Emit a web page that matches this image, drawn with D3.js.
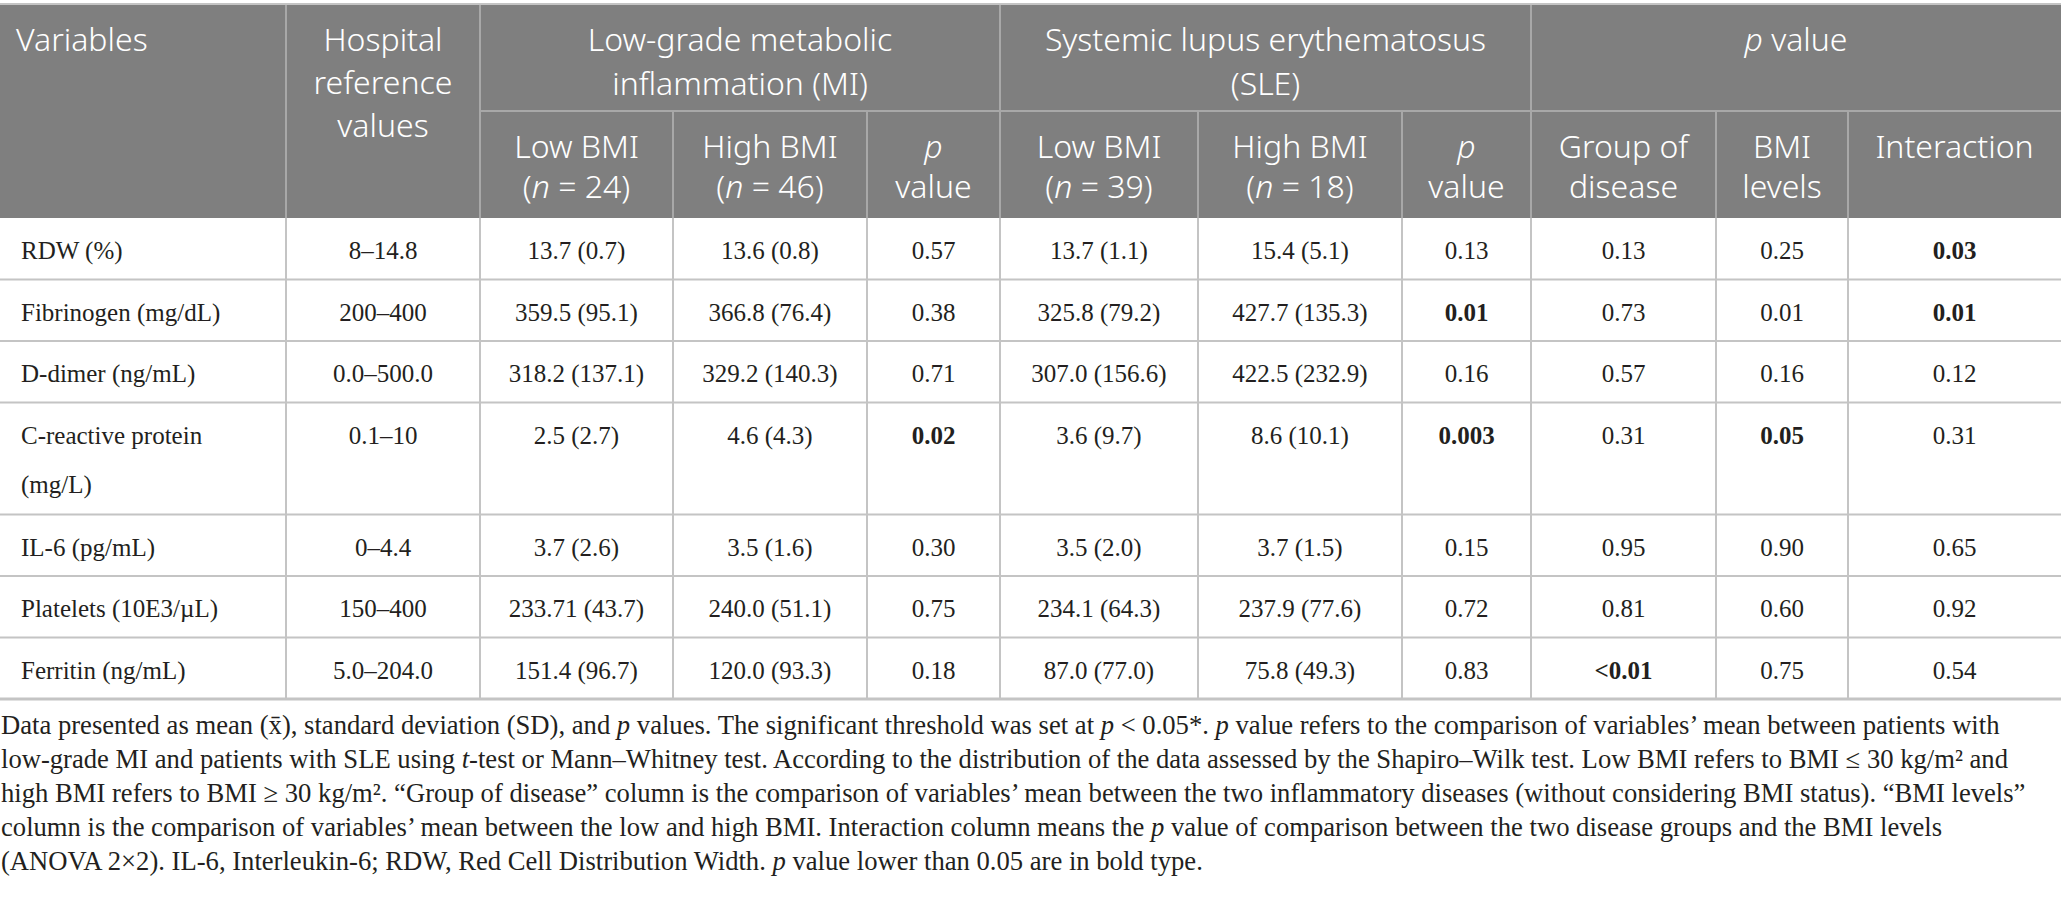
<!DOCTYPE html>
<html>
<head>
<meta charset="utf-8">
<script src="https://cdn.jsdelivr.net/npm/d3@7"></script>
<style>
  body { margin: 0; background: #fff; }
  svg { display: block; }
</style>
</head>
<body>
<svg class="table-svg"></svg>
<script>
// ---- data: table content (underscores mark italic runs, "|" a line break) ----
const variables = ["RDW (%)", "Fibrinogen (mg/dL)", "D-dimer (ng/mL)", "C-reactive protein|(mg/L)",
  "IL-6 (pg/mL)", "Platelets (10E3/µL)", "Ferritin (ng/mL)"];
const referenceValues = ["8–14.8", "200–400", "0.0–500.0", "0.1–10", "0–4.4", "150–400", "5.0–204.0"];
const miLowBmi = ["13.7 (0.7)", "359.5 (95.1)", "318.2 (137.1)", "2.5 (2.7)", "3.7 (2.6)", "233.71 (43.7)", "151.4 (96.7)"];
const miHighBmi = ["13.6 (0.8)", "366.8 (76.4)", "329.2 (140.3)", "4.6 (4.3)", "3.5 (1.6)", "240.0 (51.1)", "120.0 (93.3)"];
const miP = ["0.57", "0.38", "0.71", "0.02", "0.30", "0.75", "0.18"];
const sleLowBmi = ["13.7 (1.1)", "325.8 (79.2)", "307.0 (156.6)", "3.6 (9.7)", "3.5 (2.0)", "234.1 (64.3)", "87.0 (77.0)"];
const sleHighBmi = ["15.4 (5.1)", "427.7 (135.3)", "422.5 (232.9)", "8.6 (10.1)", "3.7 (1.5)", "237.9 (77.6)", "75.8 (49.3)"];
const sleP = ["0.13", "0.01", "0.16", "0.003", "0.15", "0.72", "0.83"];
const pGroup = ["0.13", "0.73", "0.57", "0.31", "0.95", "0.81", "<0.01"];
const pBmiLevels = ["0.25", "0.01", "0.16", "0.05", "0.90", "0.60", "0.75"];
const pInteraction = ["0.03", "0.01", "0.12", "0.31", "0.65", "0.92", "0.54"];
// bold cells as "row,col"
const boldCells = ["3,4", "1,7", "3,7", "6,8", "3,9", "0,10", "1,10"];

const groupHeaders = ["Low-grade metabolic|inflammation (MI)", "Systemic lupus erythematosus|(SLE)", "_p_ value"];
const subHeaders = ["Low BMI|(_n_ = 24)", "High BMI|(_n_ = 46)", "_p_|value",
  "Low BMI|(_n_ = 39)", "High BMI|(_n_ = 18)", "_p_|value",
  "Group of|disease", "BMI|levels", "Interaction"];

const footnoteLines = [
  "Data presented as mean (x̄), standard deviation (SD), and _p_ values. The significant threshold was set at _p_ < 0.05*. _p_ value refers to the comparison of variables’ mean between patients with",
  "low-grade MI and patients with SLE using _t_-test or Mann–Whitney test. According to the distribution of the data assessed by the Shapiro–Wilk test. Low BMI refers to BMI ≤ 30 kg/m² and",
  "high BMI refers to BMI ≥ 30 kg/m². “Group of disease” column is the comparison of variables’ mean between the two inflammatory diseases (without considering BMI status). “BMI levels”",
  "column is the comparison of variables’ mean between the low and high BMI. Interaction column means the _p_ value of comparison between the two disease groups and the BMI levels",
  "(ANOVA 2×2). IL-6, Interleukin-6; RDW, Red Cell Distribution Width. _p_ value lower than 0.05 are in bold type."
];

const columnsData = [variables, referenceValues, miLowBmi, miHighBmi, miP,
  sleLowBmi, sleHighBmi, sleP, pGroup, pBmiLevels, pInteraction];

// ---- layout ----
const width = 2061, height = 901;
const colEdges = [0, 286, 480, 673, 867, 1000, 1198, 1402, 1531, 1716, 1848, 2061];
const headTop = 4, headMid = 111, headBottom = 218;
const singleRowH = 61.5, extraLineH = 50.5, textLineH = 49;
const headFill = "#7f7f7f", headLine = "#a8a8a8", gridLine = "#c4c4c4";
const headFont = "'Noto Sans', 'Open Sans', sans-serif";
const bodyFont = "'Liberation Serif', 'DejaVu Serif', serif";

const svg = d3.select(".table-svg").attr("width", width).attr("height", height);

const colX = d3.scaleOrdinal().domain(d3.range(colEdges.length)).range(colEdges);
const colMid = i => (colX(i) + colX(i + 1)) / 2;

// row heights from number of lines in the label
const rowHeights = variables.map(v => singleRowH + (v.split("|").length - 1) * extraLineH);
const rowTops = [headBottom, ...d3.cumsum(rowHeights).map(h => headBottom + h)];
const rowY = d3.scaleOrdinal().domain(d3.range(rowTops.length)).range(rowTops);

// write text with "|" line breaks and _italic_ runs
function richText(sel, str, x, y0, dy, anchor) {
  str.split("|").forEach((line, li) => {
    const t = sel.append("text")
      .attr("x", x).attr("y", y0 + li * dy)
      .attr("text-anchor", anchor)
      .attr("dominant-baseline", "central");
    line.split("_").forEach((seg, si) => {
      if (seg === "") return;
      t.append("tspan").attr("font-style", si % 2 ? "italic" : "normal").text(seg);
    });
  });
}

// ---- header ----
const head = svg.append("g")
  .attr("font-family", headFont).attr("font-size", 32).attr("font-weight", 300).attr("fill", "#fff");

head.append("rect").attr("x", 0).attr("y", headTop)
  .attr("width", width).attr("height", headBottom - headTop).attr("fill", headFill);
svg.append("line").attr("x1", 0).attr("x2", width).attr("y1", headTop).attr("y2", headTop)
  .attr("stroke", gridLine).attr("stroke-width", 2);

const fullCols = [1, 2, 5, 8];
const halfCols = [3, 4, 6, 7, 9, 10];
head.selectAll(".vfull").data(fullCols).join("line")
  .attr("class", "vfull")
  .attr("x1", colX).attr("x2", colX).attr("y1", headTop).attr("y2", headBottom)
  .attr("stroke", headLine).attr("stroke-width", 2);
head.selectAll(".vhalf").data(halfCols).join("line")
  .attr("class", "vhalf")
  .attr("x1", colX).attr("x2", colX).attr("y1", headMid).attr("y2", headBottom)
  .attr("stroke", headLine).attr("stroke-width", 2);
head.append("line").attr("x1", colX(2)).attr("x2", width).attr("y1", headMid).attr("y2", headMid)
  .attr("stroke", headLine).attr("stroke-width", 2);

richText(head, "Variables", 16, 38, 43, "start");
richText(head, "Hospital|reference|values", colMid(1), 38, 43, "middle");
const groupSpans = [[2, 5], [5, 8], [8, 11]];
groupHeaders.forEach((g, i) => {
  const [a, b] = groupSpans[i];
  richText(head, g, (colX(a) + colX(b)) / 2, 38, 44, "middle");
});
subHeaders.forEach((s, i) => richText(head, s, colMid(i + 2), 145, 40, "middle"));

// ---- body ----
const body = svg.append("g")
  .attr("font-family", bodyFont).attr("font-size", 25).attr("fill", "#231f20");

body.selectAll(".hrow").data(d3.range(1, rowTops.length)).join("line")
  .attr("class", "hrow")
  .attr("x1", 0).attr("x2", width).attr("y1", rowY).attr("y2", rowY)
  .attr("stroke", gridLine).attr("stroke-width", (d, i, n) => i === n.length - 1 ? 3 : 2);
body.selectAll(".vcol").data(d3.range(1, colEdges.length - 1)).join("line")
  .attr("class", "vcol")
  .attr("x1", colX).attr("x2", colX)
  .attr("y1", headBottom).attr("y2", rowY(rowTops.length - 1))
  .attr("stroke", gridLine).attr("stroke-width", 2);

columnsData.forEach((col, c) => {
  col.forEach((val, r) => {
    const g = body.append("g")
      .attr("font-weight", boldCells.includes(r + "," + c) ? "bold" : "normal");
    if (c === 0) richText(g, val, 21, rowY(r) + 32, textLineH, "start");
    else richText(g, val, colMid(c), rowY(r) + 32, textLineH, "middle");
  });
});

// ---- footnote ----
const foot = svg.append("g")
  .attr("font-family", bodyFont).attr("font-size", 25).attr("fill", "#231f20");
footnoteLines.forEach((line, i) => richText(foot, line, 1, 725 + i * 34, 34, "start"));
// fit the first footnote line to the reference width
const firstW = foot.select("text").node().getComputedTextLength();
foot.attr("font-size", 25 * 1999 / firstW);
</script>
</body>
</html>
